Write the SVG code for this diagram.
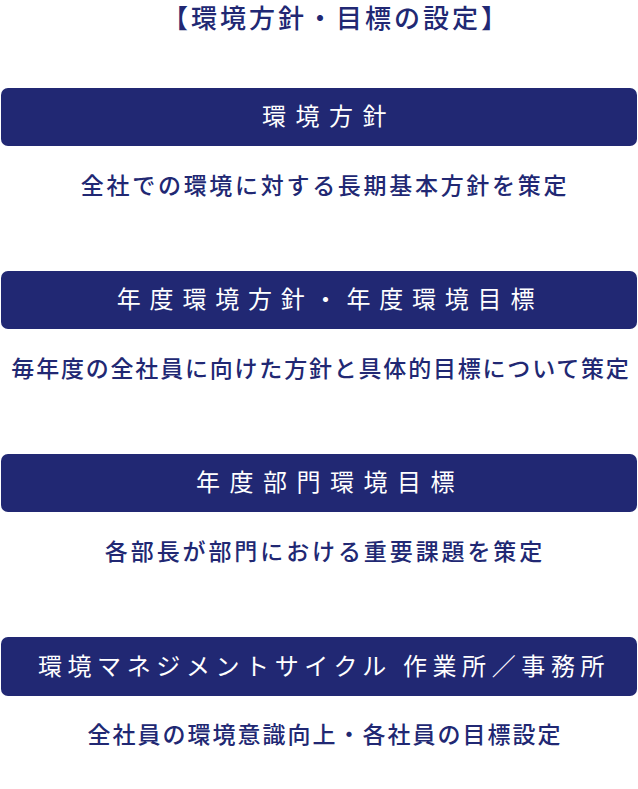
<svg xmlns="http://www.w3.org/2000/svg" width="638" height="789" viewBox="0 0 638 789">
<style>
.box{fill:#212873}
.title{font-family:"Noto Sans CJK JP","Noto Sans",sans-serif;font-size:26px;font-weight:500;fill:#212873;text-anchor:middle;letter-spacing:3px}
.head{font-family:"Noto Sans CJK JP","Noto Sans",sans-serif;font-size:24px;font-weight:400;fill:#ffffff;text-anchor:middle;letter-spacing:9.5px}
.head4{font-family:"Noto Sans CJK JP","Noto Sans",sans-serif;font-size:24px;font-weight:400;fill:#ffffff;text-anchor:middle;letter-spacing:5.6px}
.sub{font-family:"Noto Sans CJK JP","Noto Sans",sans-serif;font-size:23px;font-weight:500;fill:#212873;text-anchor:middle}
</style>
<rect width="638" height="789" fill="#ffffff"/>
<g id="title"><text class="title" x="336" y="28">【環境方針・目標の設定】</text></g>
<g id="node1">
<rect class="box" x="1" y="88" width="636" height="58" rx="7"/>
<text class="head" x="329" y="125">環境方針</text>
<text class="sub" x="325" y="194" style="letter-spacing:2.7px">全社での環境に対する長期基本方針を策定</text>
</g>
<g id="node2">
<rect class="box" x="1" y="271" width="636" height="58" rx="7"/>
<text class="head" x="330" y="308" style="letter-spacing:8.8px">年度環境方針・年度環境目標</text>
<text class="sub" x="321" y="377" style="letter-spacing:1.8px">毎年度の全社員に向けた方針と具体的目標について策定</text>
</g>
<g id="node3">
<rect class="box" x="1" y="454" width="636" height="58" rx="7"/>
<text class="head" x="330" y="491">年度部門環境目標</text>
<text class="sub" x="325" y="560" style="letter-spacing:2.9px">各部長が部門における重要課題を策定</text>
</g>
<g id="node4">
<rect class="box" x="1" y="637" width="636" height="59" rx="7"/>
<text class="head4" x="324" y="675">環境マネジメントサイクル 作業所／事務所</text>
<text class="sub" x="325" y="743" style="letter-spacing:2px">全社員の環境意識向上・各社員の目標設定</text>
</g>
<g id="connectors"/>
</svg>
